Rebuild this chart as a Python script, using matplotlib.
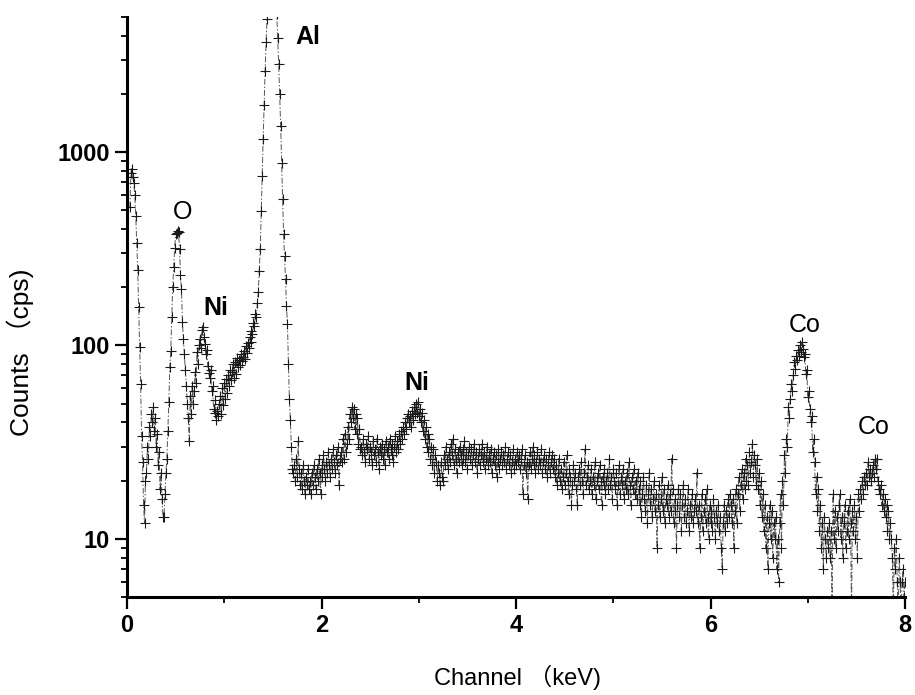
import numpy as np
import matplotlib
matplotlib.use("Agg")
import matplotlib.pyplot as plt
from matplotlib import font_manager as fm
from matplotlib.ticker import FixedLocator, LogLocator, NullFormatter, MultipleLocator

# ---------------- data (counts per 0.01 keV channel) ----------------
channel_step = 0.01
# each segment: (start energy keV, counts)
start_low = 0.03
counts_low = [520, 780, 820, 740, 690, 600, 470, 340, 245, 158, 98, 63, 34, 25, 15, 12, 20, 22, 30, 26,
              38, 34, 44, 40, 48, 36, 42, 30, 35, 24, 28, 18, 22, 16, 13, 13, 17, 22, 26, 36,
              51, 77, 94, 140, 200, 254, 320, 375, 380, 392, 388, 315, 232, 195, 133, 108, 90, 75, 62, 50,
              42, 32]
start_nil = 0.65
counts_nil = [55, 44, 62, 50, 58, 73, 64, 93, 80, 100, 108, 97, 120, 125, 110, 102, 90, 95, 78, 72,
              68, 75, 58, 62, 47, 45, 52, 41, 46, 43, 50, 55, 44, 60, 49, 64, 53, 67, 57, 70,
              62, 75, 66, 73, 80, 68, 82, 71, 86, 77, 84, 79, 90, 83, 87, 94, 85, 99, 91, 103,
              97, 110, 104, 119, 115, 130, 126, 145, 140, 165, 190, 243, 315]
start_al = 1.38
counts_al = [494, 750, 1170, 1760, 2630, 3700, 4900, 6500, 8500, 11000, 13000, 14000, 13500, 12000,
             9500, 7000, 5200, 3900, 2840, 2000, 1370, 880, 570, 375, 290, 220, 160, 129, 80, 53,
             41, 30, 23]
start_mid = 1.71
counts_mid = [22, 24, 20, 26, 21, 32, 23, 19, 22, 18, 24, 20, 17, 21, 19, 23, 18, 20, 17, 22,
              19, 24, 21, 18, 23, 20, 26, 22, 17, 24, 21, 27, 23, 20, 25, 22, 28, 24, 21, 26,
              23, 29, 25, 22, 27, 24, 30, 19, 26, 28,
              25, 33, 26, 35, 28, 31, 38, 33, 44, 40, 48, 42, 47, 37, 44, 35, 42, 31, 37, 29,
              30, 27, 33, 28, 25, 31, 29, 34, 26, 30, 28, 24, 32, 27, 29, 25, 33, 28, 23, 30,
              27, 31, 26, 29, 24, 32, 28, 30, 26, 33, 29, 27, 31, 25, 30, 34, 28, 32, 29, 35,
              31, 36, 33, 38, 35, 40, 37, 42, 44, 40,
              43, 38, 46, 41, 48, 44, 50, 45, 51, 43, 47, 40, 45, 36, 41, 33, 38, 30, 35, 28,
              33, 26, 30, 24, 29, 22, 27, 25, 20, 24, 22, 19, 25, 21, 20]
start_bg = 3.26
counts_bg = [27, 24, 30, 26, 23, 28, 25, 31, 27, 33, 24, 29, 26, 22, 28, 25, 30, 27, 24, 29,
             26, 32, 25, 28, 23, 27, 30, 26, 29, 24, 27, 31, 25, 28, 22, 26, 29, 24, 27, 31,
             25, 28, 23, 26, 30, 24, 27, 25, 29, 22, 26, 28, 24, 27, 21, 25, 29, 23, 26, 28,
             24, 27, 25, 30, 23, 26, 28, 24, 27, 22, 25, 29, 23, 26, 24, 28, 25, 27, 23, 26,
             29, 17, 24, 27, 22, 25, 16, 24, 28, 23, 26, 30, 24, 27, 22, 25, 28, 23, 26, 24,
             29, 22, 25, 27, 23, 26, 21, 24, 28, 22, 25, 27, 23, 26, 21,
             24, 19, 22, 26, 20, 23, 18, 21, 25, 19, 22, 27, 20, 17, 23, 21, 15, 19, 24, 20,
             22, 18, 15, 21, 23, 19, 25, 20, 17, 22, 29, 19, 21, 24, 18, 20, 23, 17, 21, 19,
             25, 16, 20, 22, 18, 24, 20, 15, 21, 19, 23, 17, 20, 22, 18, 26, 19, 21, 16, 23,
             20, 18, 22, 15, 19, 24, 17, 21, 19, 23, 16, 20, 18, 22, 17, 25, 19, 15, 21, 18,
             23, 17, 20, 16, 22]
start_fe = 5.26
counts_fe = [18, 15, 20, 13, 17, 21, 16, 14, 19, 12, 17, 22, 15, 18, 13, 16, 20, 14, 17, 9,
             15, 19, 13, 16, 21, 14, 18, 12, 16, 15, 19, 13, 17, 14, 26, 18, 12, 16, 14, 9,
             15, 18, 13, 17, 11, 15, 19, 13, 16, 12, 14, 18, 11, 15, 13, 17, 12, 14, 16,
             14, 22, 12, 15, 9, 13, 17, 11, 14, 16, 12, 18, 13, 10, 15, 12, 14, 11, 16, 13,
             10, 14, 12, 15, 11, 13, 9, 7, 12, 15, 11, 14, 12, 16, 13, 17, 15,
             12, 16, 9, 14, 18, 12, 17, 21, 14, 19, 23, 16, 22, 18, 26, 20, 24, 19, 28, 22,
             25, 31, 21, 27, 24, 19, 26, 18, 22, 15, 20, 13, 17, 11, 15, 9, 13, 7, 12, 15,
             10, 14, 8, 12, 10, 13, 7, 10, 6]
start_co = 6.71
counts_co = [12, 17, 9, 20, 15, 27, 22, 33, 30, 48, 42, 53, 63, 58, 70, 82, 76, 88, 84, 95,
             88, 101, 92, 104, 96, 87, 90, 71, 75, 54, 58, 47, 40, 43, 28, 33, 25, 17, 21, 14,
             18, 11, 15, 9, 12, 7, 13, 10, 8, 11,
             9, 12, 8, 11, 4, 17, 10, 14, 9, 13, 11, 15, 17, 10, 13, 8, 12, 15, 9, 11,
             14, 10, 16, 12, 4, 14, 11, 15, 10, 13, 8, 17, 14, 18, 16, 20, 17, 21, 19, 22,
             19, 25, 21, 23, 20, 22, 24, 21, 26, 23, 26, 20, 18, 17, 19, 15, 17, 14, 16, 13,
             15, 11, 14, 10, 12, 10, 8, 4, 9, 7, 10, 6, 4, 8, 6, 4, 6, 7, 5, 6]

segments = [(start_low, counts_low), (start_nil, counts_nil), (start_al, counts_al),
            (start_mid, counts_mid), (start_bg, counts_bg), (start_fe, counts_fe),
            (start_co, counts_co)]

peak_labels = ["Al", "O", "Ni", "Ni", "Co", "Co"]
peak_label_x = [1.856, 0.571, 0.913, 2.982, 6.972, 7.676]
peak_label_y = [3926, 488, 156, 64, 128, 37.7]
peak_label_bold = [True, False, True, True, False, False]

x_ticks = [0, 2, 4, 6, 8]
y_ticks = [10, 100, 1000]
y_tick_labels = ["10", "100", "1000"]

# ---------------- build arrays ----------------
energy = np.concatenate([s + channel_step * np.arange(len(c)) for s, c in segments])
counts = np.concatenate([np.asarray(c, dtype=float) for s, c in segments])

names = {f.name for f in fm.fontManager.ttflist}
narrow = "Liberation Sans Narrow" if "Liberation Sans Narrow" in names else "Liberation Sans"
plt.rcParams["font.family"] = ["Liberation Sans", "DejaVu Sans"]

fig = plt.figure(figsize=(9.15, 6.95), dpi=100)
ax = fig.add_axes([127 / 915, 1 - 597 / 695, (905 - 127) / 915, (597 - 17) / 695])

ax.plot(energy, counts, linestyle=(0, (6, 2, 1.5, 2)), color="#555555", linewidth=0.7,
        marker="+", markersize=7.5, markeredgewidth=0.8, markeredgecolor="#1a1a1a")

ax.set_yscale("log")
ax.set_xlim(0, 8)
ax.set_ylim(5, 5000)

ax.xaxis.set_major_locator(FixedLocator(x_ticks))
ax.xaxis.set_minor_locator(MultipleLocator(1))
ax.yaxis.set_major_locator(FixedLocator(y_ticks))
ax.yaxis.set_minor_locator(LogLocator(base=10, subs=np.arange(2, 10)))
ax.yaxis.set_minor_formatter(NullFormatter())
ax.set_yticklabels(y_tick_labels)
ax.set_xticklabels([str(t) for t in x_ticks])

for lab in ax.get_yticklabels():
    lab.set_fontsize(17)
    lab.set_fontweight("bold")
    lab.set_family(["Liberation Sans", "DejaVu Sans"])
for lab in ax.get_xticklabels():
    lab.set_fontsize(17)
    lab.set_fontweight("bold")
    lab.set_family([narrow, "DejaVu Sans"])

ax.tick_params(which="major", direction="out", length=8.5, width=1.6, pad=4, color="black")
ax.tick_params(which="minor", direction="out", length=4.5, width=1.3, color="black")
for side in ["top", "right"]:
    ax.spines[side].set_visible(False)
for side in ["left", "bottom"]:
    ax.spines[side].set_linewidth(2.2)

for t, x, y, b in zip(peak_labels, peak_label_x, peak_label_y, peak_label_bold):
    ax.text(x, y, t, ha="center", va="center", fontsize=18,
            fontweight="bold" if b else "normal", color="black")

fig.text(517 / 915, 1 - 677 / 695, "Channel （keV)", ha="center", va="center",
         fontsize=17, family=[narrow, "Noto Sans CJK SC", "DejaVu Sans"])
fig.text(20 / 915, 1 - 352 / 695, "Counts （cps)", ha="center", va="center",
         rotation=90, fontsize=19, family=["Liberation Sans", "Noto Sans CJK SC", "DejaVu Sans"])

fig.savefig("out.png", dpi=100)
